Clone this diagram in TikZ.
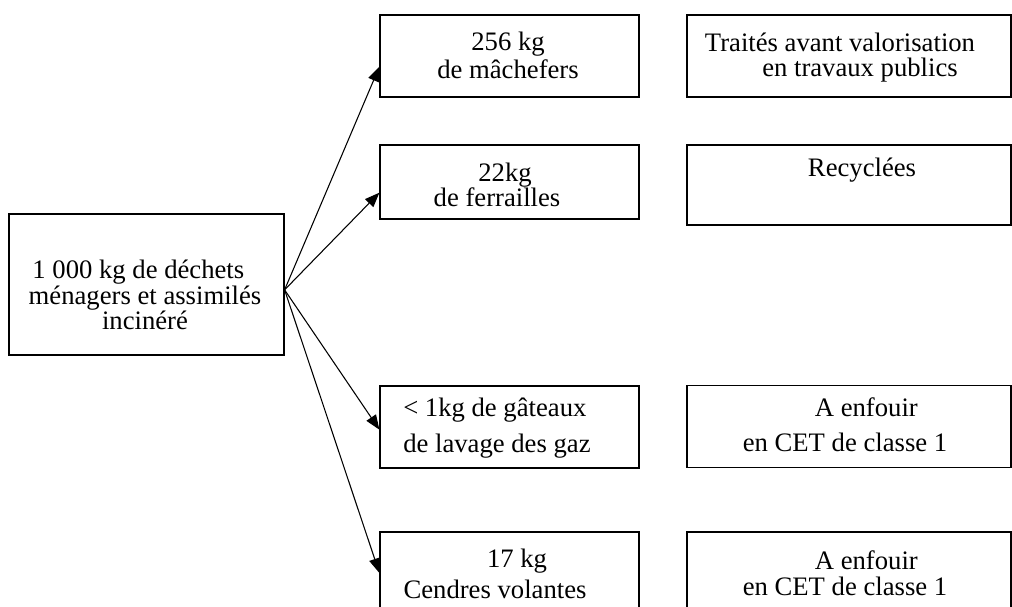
\documentclass[tikz,border=0pt]{standalone}
\usepackage{fontspec}
\setmainfont{Liberation Serif}
\usetikzlibrary{arrows.meta, positioning}

\begin{document}
\begin{tikzpicture}[x=0.75pt, y=-0.75pt,
  box/.style={draw, line width=0.9pt, inner sep=0pt},
  midbox/.style={box, minimum width=194.25pt, minimum height=61.5pt},
  endbox/.style={box, minimum width=243pt, minimum height=61.5pt},
  txt/.style={inner sep=0pt, align=center, font=\fontsize{20}{19}\selectfont},
  flow/.style={-{Triangle[length=11pt, width=8.5pt]}, line width=0.8pt}]
  \useasboundingbox (0,0) rectangle (1012,606);
  \clip (0,0) rectangle (1012,606);

  % ---- Input ----
  \node[box, minimum width=206.25pt, minimum height=105.75pt] (src) at (146.5,284.5) {};
  \node[txt] (src-t) at (145,295)
    {1 000 kg de déchets\hspace*{10pt}\\ménagers et assimilés\\incinéré};
  \coordinate (hub) at ([yshift=-4pt]src.east);

  % ---- Residues ----
  \node[midbox] (m1) at (509.5,56) {};
  \node[midbox, minimum height=55.5pt] (m2) at (509.5,182) {};
  \node[midbox] (m3) at (509.5,427) {};
  \node[midbox] (m4) at (509.5,573) {};
  \node[txt] (m1-t) at (508,55) {256 kg\\[2pt]de mâchefers};
  \node[txt] (m2-t) at (497,185) {\hspace*{12pt}22kg\\[-0.5pt]de ferrailles};
  \node[txt, align=left, anchor=west] (m3-t) at (403,428) {< 1kg de gâteaux\\[7.5pt]de lavage des gaz};
  \node[txt] (m4-t) at (495,574) {\hspace*{33pt}17 kg\\[3.75pt]Cendres volantes};

  % ---- Destinations ----
  \node[endbox] (r1) at (849,56) {};
  \node[endbox, minimum height=60pt] (r2) at (849,185) {};
  \node[endbox] (r3) at (849,426.5) {};
  \node[endbox] (r4) at (849,573) {};
  \node[txt] (r1-t) at (840,57.5) {Traités avant valorisation\\\hspace*{30pt}en travaux publics};
  \node[txt] (r2-t) at (862,170) {Recyclées};
  \node[txt] (r3-t) at (845,424.5) {\hspace*{32pt}A enfouir\\[7.5pt]en CET de classe 1};
  \node[txt] (r4-t) at (845,573) {\hspace*{32pt}A enfouir\\[0.75pt]en CET de classe 1};

  % ---- Flows ----
  \foreach \b/\d in {m1/-8pt, m2/-8pt, m3/-2pt, m4/0pt}
    \draw[flow] (hub) -- ([yshift=\d]\b.west);
\end{tikzpicture}
\end{document}
